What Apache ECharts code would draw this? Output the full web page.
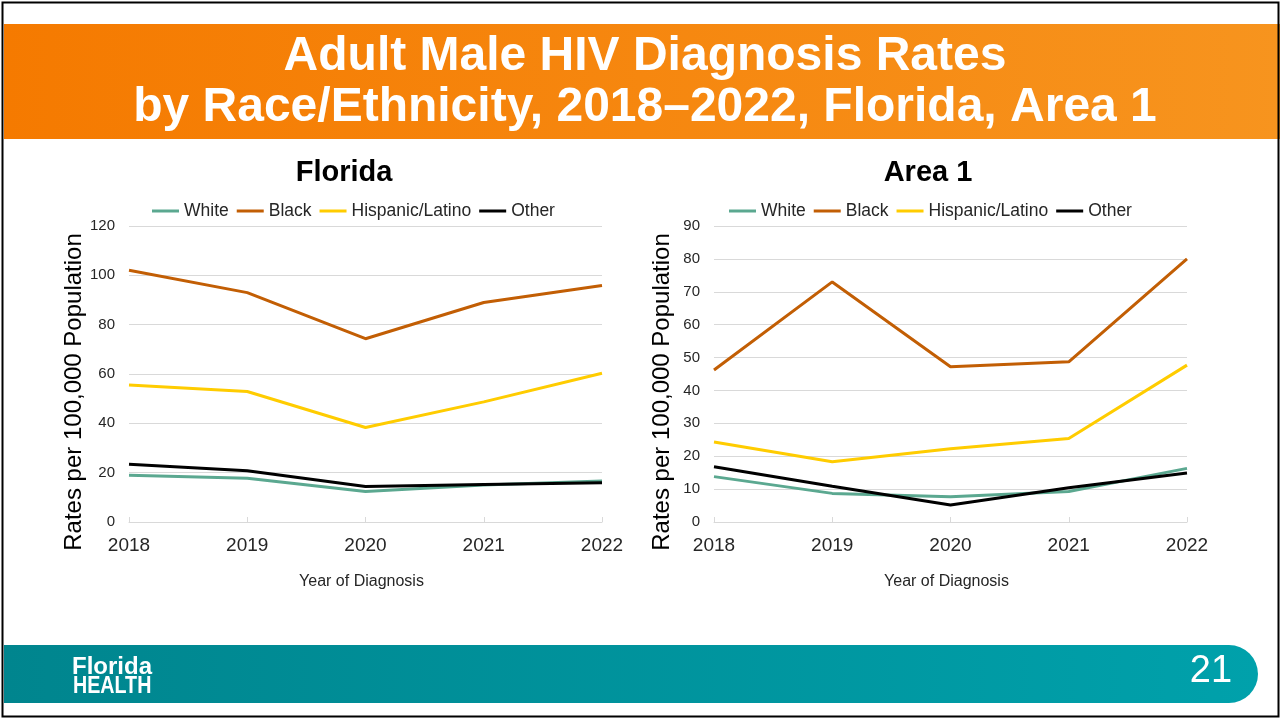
<!DOCTYPE html>
<html>
<head>
<meta charset="utf-8">
<title>Adult Male HIV Diagnosis Rates</title>
<script src="https://cdn.jsdelivr.net/npm/echarts@6/dist/echarts.min.js"></script>
<style>
  html, body { margin: 0; padding: 0; background: #fff; }
  #chart { width: 1281px; height: 719px; }
</style>
</head>
<body>
<div id="chart"></div>
<script>
// categories
var years = ["2018", "2019", "2020", "2021", "2022"];
var seriesNames = ["White", "Black", "Hispanic/Latino", "Other"];

// Florida
var flWhite = [19.0, 17.7, 12.4, 15.0, 16.6];
var flBlack = [102.1, 93.0, 74.3, 89.0, 95.9];
var flHispanic = [55.5, 52.9, 38.3, 48.7, 60.3];
var flOther = [23.4, 20.8, 14.4, 15.2, 15.9];

// Area 1
var a1White = [13.8, 8.7, 7.7, 9.3, 16.3];
var a1Black = [46.2, 73.0, 47.2, 48.7, 80.0];
var a1Hispanic = [24.3, 18.3, 22.3, 25.4, 47.7];
var a1Other = [16.8, 10.9, 5.2, 10.4, 14.9];

var colors = ["#5BA890", "#C25E04", "#FFCC00", "#000000"];
var font = "Liberation Sans, Arial, sans-serif";

var chart = echarts.init(document.getElementById("chart"));

function xAxisCfg(idx) {
  return {
    type: "category",
    gridIndex: idx,
    data: years,
    boundaryGap: false,
    name: "Year of Diagnosis",
    nameLocation: "middle",
    nameGap: 52,
    // nudge a bit left, like the original
    nameTextStyle: { color: "#262626", fontSize: 16, fontFamily: font, padding: [0, 8, 0, 0] },
    axisLine: { lineStyle: { color: "#D9D9D9", width: 1 } },
    axisTick: { show: true, inside: true, length: 5, lineStyle: { color: "#D9D9D9" } },
    axisLabel: { color: "#262626", fontSize: 19, fontFamily: font, margin: 14 },
    splitLine: { show: false }
  };
}

function yAxisCfg(idx, max, step) {
  return {
    type: "value",
    gridIndex: idx,
    min: 0,
    max: max,
    interval: step,
    name: "Rates per 100,000 Population",
    nameLocation: "middle",
    nameGap: 40,
    // label sits lower than the plot centre
    nameTextStyle: { color: "#000", fontSize: 24, fontFamily: font, padding: [0, 36, 0, 0] },
    axisLine: { show: false },
    axisTick: { show: false },
    axisLabel: { color: "#262626", fontSize: 15, fontFamily: font, margin: 14 },
    splitLine: { lineStyle: { color: "#D9D9D9", width: 1 } }
  };
}

function lineSeries(name, data, idx, color) {
  return {
    name: name,
    type: "line",
    xAxisIndex: idx,
    yAxisIndex: idx,
    data: data,
    symbol: "none",
    lineStyle: { width: 3, color: color },
    itemStyle: { color: color },
    animation: false
  };
}

function legendCfg(left) {
  return {
    left: left,
    top: 197,
    data: seriesNames,
    icon: "rect",
    itemWidth: 27,
    itemHeight: 3,
    itemGap: 8,
    textStyle: { color: "#262626", fontSize: 17.5, fontFamily: font }
  };
}

var option = {
  animation: false,
  color: colors,
  grid: [
    { left: 129, right: 679, top: 226, bottom: 197 },
    { left: 714, right: 94, top: 226, bottom: 197 }
  ],
  legend: [legendCfg(147), legendCfg(724)],
  xAxis: [xAxisCfg(0), xAxisCfg(1)],
  yAxis: [yAxisCfg(0, 120, 20), yAxisCfg(1, 90, 10)],
  series: [
    lineSeries("White", flWhite, 0, colors[0]),
    lineSeries("Black", flBlack, 0, colors[1]),
    lineSeries("Hispanic/Latino", flHispanic, 0, colors[2]),
    lineSeries("Other", flOther, 0, colors[3]),
    lineSeries("White", a1White, 1, colors[0]),
    lineSeries("Black", a1Black, 1, colors[1]),
    lineSeries("Hispanic/Latino", a1Hispanic, 1, colors[2]),
    lineSeries("Other", a1Other, 1, colors[3])
  ],
  graphic: [
    // orange banner
    {
      type: "rect",
      z: -10,
      shape: { x: 4, y: 24, width: 1276, height: 115 },
      style: {
        fill: new echarts.graphic.LinearGradient(0, 0, 1, 0, [
          { offset: 0, color: "#F57A00" },
          { offset: 1, color: "#F7941E" }
        ])
      }
    },
    {
      type: "text",
      style: {
        text: "Adult Male HIV Diagnosis Rates",
        x: 645, y: 57,
        textAlign: "center", textVerticalAlign: "middle",
        font: "bold 48px " + font, fill: "#fff"
      }
    },
    {
      type: "text",
      style: {
        text: "by Race/Ethnicity, 2018\u20132022, Florida, Area 1",
        x: 645, y: 108,
        textAlign: "center", textVerticalAlign: "middle",
        font: "bold 48px " + font, fill: "#fff"
      }
    },
    // chart titles
    {
      type: "text",
      style: {
        text: "Florida", x: 344, y: 173,
        textAlign: "center", textVerticalAlign: "middle",
        font: "bold 29px " + font, fill: "#000"
      }
    },
    {
      type: "text",
      style: {
        text: "Area 1", x: 928, y: 173,
        textAlign: "center", textVerticalAlign: "middle",
        font: "bold 29px " + font, fill: "#000"
      }
    },
    // teal footer
    {
      type: "rect",
      z: -10,
      shape: { x: 4, y: 645, width: 1254, height: 58, r: [0, 29, 29, 0] },
      style: {
        fill: new echarts.graphic.LinearGradient(0, 0, 1, 0, [
          { offset: 0, color: "#00858E" },
          { offset: 1, color: "#00A1AB" }
        ])
      }
    },
    {
      type: "text",
      style: {
        text: "Florida", x: 72, y: 667,
        textVerticalAlign: "middle",
        font: "bold 24px " + font, fill: "#fff"
      }
    },
    {
      type: "text",
      x: 73, y: 686,
      scaleX: 0.82,
      style: {
        text: "HEALTH", x: 0, y: 0,
        textVerticalAlign: "middle",
        font: "bold 24px " + font, fill: "#fff"
      }
    },
    {
      type: "text",
      style: {
        text: "21", x: 1211, y: 672,
        textAlign: "center", textVerticalAlign: "middle",
        font: "38px " + font, fill: "#fff"
      }
    },
    // slide frame
    {
      type: "rect",
      z: 10,
      shape: { x: 2.5, y: 2.5, width: 1276, height: 714 },
      style: { fill: "none", stroke: "#000", lineWidth: 2 }
    }
  ]
};

chart.setOption(option);
</script>
</body>
</html>
